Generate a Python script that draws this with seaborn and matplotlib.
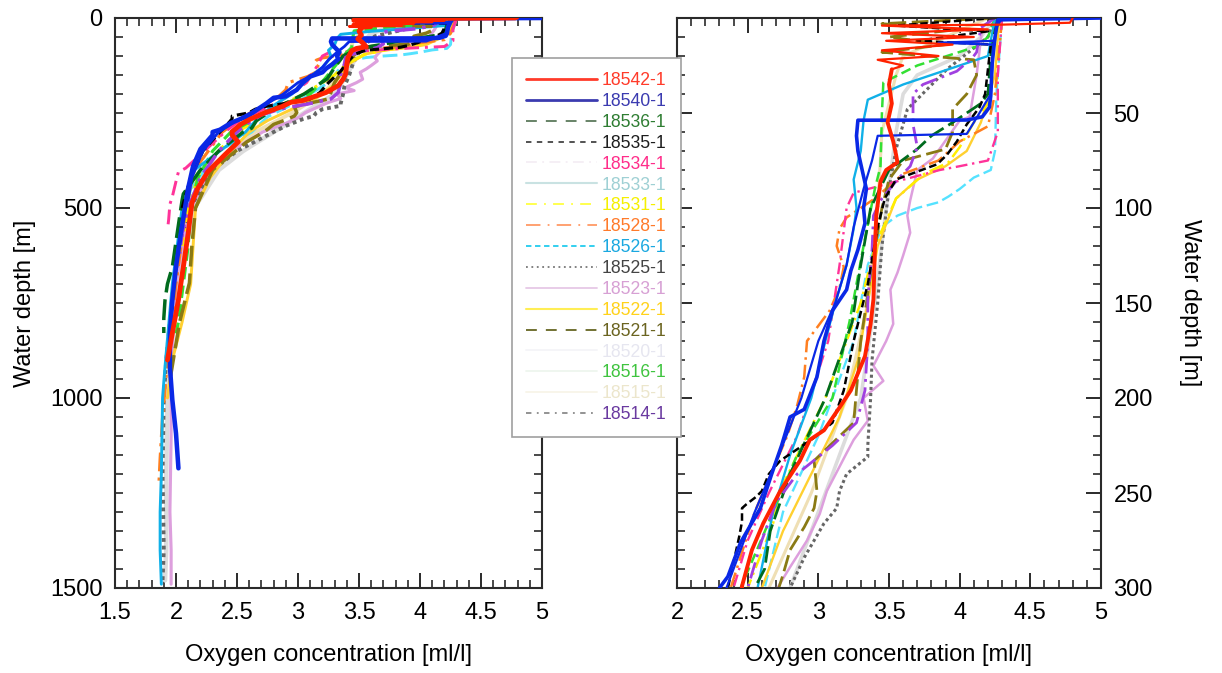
import matplotlib
matplotlib.use("Agg")
import matplotlib.pyplot as plt
import seaborn as sns
import pandas as pd
from matplotlib.lines import Line2D
from matplotlib.ticker import MultipleLocator

sns.set_style("ticks")
plt.rcParams['font.family'] = ['Liberation Sans', 'DejaVu Sans']

# ---------------- data: (depth [m], oxygen [ml/l]) per station ----------------
st_18542_top = [(0, 4.80), (2.5, 4.78), (3.5, 4.30), (4, 3.45), (6, 4.20), (8, 3.45), (10, 4.10),
                (12, 3.48), (14, 3.95), (17, 3.45), (20, 3.85), (22, 3.42), (25, 3.60), (27, 3.52)]
st_18542 = [(27, 3.52), (35, 3.50), (45, 3.52),
            (55, 3.49), (65, 3.53), (72, 3.55), (76, 3.56), (80, 3.48), (86, 3.44), (104, 3.41), (122, 3.40),
            (148, 3.39), (161, 3.37), (178, 3.33), (196, 3.23), (205, 3.15), (217, 3.04), (222, 2.94),
            (233, 2.87), (249, 2.73), (266, 2.61), (280, 2.53), (299, 2.46), (308, 2.46), (326, 2.51),
            (360, 2.40), (405, 2.26), (447, 2.18), (487, 2.13), (566, 2.10), (655, 2.06), (742, 2.02),
            (829, 1.97), (900, 1.93)]
st_18540 = [(0, 5.0), (0.5, 4.6), (1, 4.27), (10, 4.25), (24, 4.23), (41, 4.22), (47, 4.21), (52, 4.16),
            (53.7, 4.05), (53.8, 3.28), (62, 3.27), (70, 3.28), (80, 3.31), (90, 3.34), (100, 3.32),
            (108, 3.33), (122, 3.28), (133, 3.23), (143, 3.20), (154, 3.10), (170, 3.04), (189, 2.99),
            (206, 2.90), (210, 2.80), (225, 2.74), (240, 2.67), (258, 2.59), (276, 2.45), (294, 2.36),
            (300, 2.30), (308, 2.30), (345, 2.20), (390, 2.14), (447, 2.10), (487, 2.08), (566, 2.04),
            (655, 2.00), (742, 1.97), (829, 1.95), (918, 1.95), (1005, 1.97), (1093, 2.00), (1185, 2.02)]
st_18540_b = [(0, 4.30), (5, 4.26), (12, 4.25), (13, 3.85), (14, 4.24), (40, 4.22), (55, 4.10), (61, 4.05),
              (62, 3.42), (75, 3.38), (90, 3.32), (110, 3.25), (130, 3.20), (150, 3.12), (170, 3.00),
              (200, 2.88), (230, 2.72), (260, 2.55), (290, 2.40), (300, 2.35), (350, 2.22), (420, 2.13),
              (480, 2.10)]
st_18536 = [(0, 4.27), (10, 4.24), (20, 4.22), (30, 4.21), (40, 4.20), (45, 4.15), (55, 3.95), (62, 3.80),
            (69, 3.70), (80, 3.50), (100, 3.37), (130, 3.30), (160, 3.24), (200, 3.05), (240, 2.80),
            (270, 2.66), (290, 2.62), (300, 2.55), (350, 2.35), (400, 2.20), (463, 2.06), (479, 2.05),
            (566, 2.01), (655, 1.97), (700, 1.93), (742, 1.91), (790, 1.90), (829, 1.90)]
st_18535 = [(0, 4.25), (4, 3.55), (7, 4.20), (12, 3.70), (14, 4.22), (40, 4.18), (47, 4.14), (56, 4.05),
            (65, 3.98), (72, 3.91), (77, 3.84), (85, 3.55), (95, 3.47), (110, 3.42), (140, 3.35),
            (170, 3.25), (196, 3.18), (213, 3.10), (222, 2.95), (233, 2.73), (240, 2.65), (249, 2.60),
            (252, 2.56), (256, 2.49), (258, 2.46), (265, 2.46), (273, 2.44), (300, 2.36), (350, 2.22),
            (420, 2.12), (500, 2.05)]
st_18534 = [(0, 4.30), (30, 4.27), (60, 4.27), (75, 4.20), (78, 4.00), (80, 3.86), (92, 3.25), (100, 3.20),
            (130, 3.15), (170, 3.07), (220, 2.85), (250, 2.65), (275, 2.50), (300, 2.40), (330, 2.30),
            (395, 2.08), (405, 2.02), (430, 2.00), (470, 1.97), (490, 1.95), (530, 1.94), (558, 1.93)]
st_18533 = [(0, 4.30), (40, 4.26), (70, 4.25), (80, 4.22), (84, 4.10), (90, 4.00), (94, 3.92), (97, 3.85),
            (100, 3.70), (104, 3.56), (110, 3.45), (130, 3.35), (170, 3.25), (220, 3.00), (260, 2.75),
            (300, 2.62), (350, 2.35), (450, 2.12), (600, 2.02)]
st_18531 = [(0, 4.30), (40, 4.25), (55, 4.10), (68, 4.00), (76, 3.92), (82, 3.75), (95, 3.55), (120, 3.40),
            (150, 3.30), (200, 3.05), (250, 2.72), (266, 2.68), (300, 2.50), (400, 2.20), (500, 2.10),
            (600, 2.05)]
st_18528 = [(0, 4.30), (40, 4.25), (57, 4.20), (65, 4.00), (75, 3.85), (82, 3.60), (95, 3.40), (105, 3.20),
            (111, 3.15), (120, 3.13), (131, 3.18), (142, 3.15), (154, 3.08), (170, 2.92), (189, 2.90),
            (204, 2.85), (220, 2.78), (260, 2.55), (300, 2.38), (400, 2.15), (500, 2.08), (700, 2.00),
            (900, 1.93), (1050, 1.89), (1158, 1.87), (1224, 1.86)]
st_18526 = [(0, 4.25), (20, 4.20), (35, 3.60), (43, 3.35), (54, 3.32), (70, 3.30), (85, 3.25), (100, 3.27),
            (111, 3.25), (130, 3.20), (150, 3.12), (170, 3.05), (200, 2.95), (230, 2.80), (260, 2.68),
            (300, 2.57), (400, 2.15), (500, 2.05), (700, 1.97), (918, 1.91), (1000, 1.89), (1200, 1.88),
            (1300, 1.87), (1400, 1.87), (1490, 1.88)]
st_18525 = [(0, 4.25), (10, 4.20), (27, 3.91), (48, 3.63), (69, 3.55), (90, 3.50), (120, 3.45), (150, 3.42),
            (180, 3.38), (200, 3.37), (225, 3.35), (231, 3.35), (240, 3.20), (249, 3.15), (258, 3.13),
            (266, 3.04), (275, 2.97), (284, 2.90), (300, 2.80), (350, 2.50), (400, 2.30), (480, 2.15),
            (566, 2.05), (700, 1.98), (900, 1.92), (1000, 1.90), (1200, 1.89), (1400, 1.90), (1480, 1.89)]
st_18523 = [(0, 4.25), (5, 4.16), (30, 4.12), (52, 4.07), (54, 4.00), (74, 3.81), (80, 3.70), (96, 3.65),
            (104, 3.63), (113, 3.65), (125, 3.60), (134, 3.56), (143, 3.51), (161, 3.53), (170, 3.48),
            (183, 3.39), (191, 3.46), (200, 3.32), (212, 3.35), (222, 3.25), (229, 3.20), (249, 3.06),
            (261, 3.01), (275, 2.92), (289, 2.80), (300, 2.71), (350, 2.45), (400, 2.30), (500, 2.12),
            (600, 2.05), (700, 2.00), (800, 1.98), (950, 1.96), (1100, 1.96), (1300, 1.95), (1400, 1.96),
            (1490, 1.96)]
st_18522 = [(0, 4.28), (30, 4.25), (55, 4.15), (70, 4.05), (78, 3.90), (85, 3.70), (95, 3.55), (120, 3.42),
            (150, 3.35), (180, 3.28), (210, 3.15), (240, 2.95), (270, 2.75), (300, 2.60), (350, 2.45),
            (420, 2.28), (500, 2.16), (600, 2.14), (700, 2.12), (800, 2.05), (900, 1.97), (1000, 1.93)]
st_18521 = [(0, 4.25), (3, 3.45), (6, 4.00), (10, 3.50), (14, 3.90), (18, 3.45), (22, 4.10), (30, 4.12),
            (40, 4.05), (48, 3.95), (60, 3.95), (69, 3.90), (75, 3.60), (85, 3.50), (100, 3.45), (130, 3.38),
            (170, 3.30), (213, 3.25), (233, 2.97), (249, 2.99), (258, 2.97), (268, 2.90), (280, 2.80),
            (293, 2.75), (300, 2.72), (326, 2.58), (400, 2.30), (500, 2.16), (600, 2.13), (697, 2.11),
            (800, 2.03), (953, 1.95)]
st_18520 = [(0, 4.25), (10, 4.15), (20, 4.00), (30, 3.70), (40, 3.60), (60, 3.55), (100, 3.48), (150, 3.40),
            (200, 3.30), (250, 3.05), (280, 2.90), (300, 2.80), (350, 2.55), (400, 2.35), (500, 2.15),
            (600, 2.08), (700, 2.02), (800, 1.98), (900, 1.95), (1000, 1.93), (1200, 1.92), (1400, 1.92),
            (1480, 1.91)]
st_18516 = [(0, 4.25), (10, 4.20), (15, 4.12), (25, 3.70), (34, 3.46), (50, 3.45), (78, 3.44), (90, 3.40),
            (120, 3.32), (160, 3.22), (200, 3.10), (230, 2.85), (260, 2.68), (300, 2.45), (350, 2.30),
            (420, 2.18), (500, 2.12), (600, 2.10), (700, 2.06), (800, 2.02), (830, 2.00)]
st_18515 = [(0, 4.20), (20, 3.60), (30, 3.55), (60, 3.45), (100, 3.42), (150, 3.35), (200, 3.20),
            (250, 2.95), (300, 2.65), (400, 2.25), (500, 2.12)]
st_18514 = [(0, 4.25), (5, 4.15), (18, 4.12), (21, 4.09), (28, 3.98), (35, 3.74), (40, 3.67), (56, 3.67),
            (68, 3.70), (78, 3.65), (85, 3.56), (96, 3.44), (104, 3.39), (122, 3.38), (148, 3.35), (170, 3.35),
            (196, 3.33), (213, 3.27), (225, 3.10), (240, 2.85), (255, 2.70), (275, 2.60), (300, 2.50),
            (350, 2.35), (420, 2.20), (500, 2.10), (566, 2.05), (620, 2.03)]

labels = ["18542-1", "18540-1", "18536-1", "18535-1", "18534-1", "18533-1", "18531-1", "18528-1",
          "18526-1", "18525-1", "18523-1", "18522-1", "18521-1", "18520-1", "18516-1", "18515-1", "18514-1"]
label_colors = ["#ff3b2a", "#3b3bb0", "#2e7d32", "#1e1e1e", "#ff2d8a", "#9fd0d4", "#f5f000", "#ff7a2a",
                "#1aa8e0", "#444444", "#d7a0d4", "#ffd21a", "#6b6420", "#e6e6f0", "#3fc43f", "#ece6cc",
                "#6a3aa0"]

# ---------------- styling ----------------
line_styles = {
    "18520-1": ("#dcdcdc", "-", 2.6), "18515-1": ("#efdfb4", "-", 2.2),
    "18533-1": ("#55e2ff", (0, (5, 2)), 1.7), "18523-1": ("#dd9fdd", "-", 1.8),
    "18525-1": ("#666666", (0, (1, 1)), 2.2), "18522-1": ("#ffd030", "-", 1.7),
    "18531-1": ("#ffee00", (0, (6, 2, 1, 2)), 1.8), "18528-1": ("#ff7f20", (0, (6, 2, 1, 2)), 1.8),
    "18534-1": ("#ff3399", (0, (5, 2, 1, 2)), 1.7), "18516-1": ("#33e033", (0, (4, 2)), 1.8),
    "18526-1": ("#10b0e8", "-", 1.7), "18521-1": ("#8a7a14", (0, (6, 2)), 2.0),
    "18536-1": ("#006b1e", (0, (6, 2)), 2.0), "18514-1": ("#a040e0", (0, (6, 2, 1, 2)), 2.0),
    "18535-1": ("#000000", (0, (3, 1.5)), 1.8),
}
draw_order = ["18520-1", "18515-1", "18533-1", "18523-1", "18525-1", "18522-1", "18531-1", "18528-1",
              "18534-1", "18516-1", "18526-1", "18521-1", "18536-1", "18514-1", "18535-1"]
station_data = {"18542-1": st_18542, "18540-1": st_18540, "18536-1": st_18536, "18535-1": st_18535,
                "18534-1": st_18534, "18533-1": st_18533, "18531-1": st_18531, "18528-1": st_18528,
                "18526-1": st_18526, "18525-1": st_18525, "18523-1": st_18523, "18522-1": st_18522,
                "18521-1": st_18521, "18520-1": st_18520, "18516-1": st_18516, "18515-1": st_18515,
                "18514-1": st_18514}

legend_handles = [
    ("#ff3b2a", "-", 2.0), ("#3b3bb0", "-", 2.0), ("#5c7a5c", (0, (6, 5)), 1.3),
    ("#444444", (0, (3, 3)), 1.3), ("#f4eef4", (0, (6, 3, 1, 3)), 1.3), ("#c9e2e2", "-", 1.5),
    ("#ffff40", (0, (6, 4, 1, 4)), 1.3), ("#ff9a66", (0, (8, 4, 1, 4)), 1.3),
    ("#22ccee", (0, (3, 2)), 1.3), ("#777777", (0, (1, 2)), 1.3), ("#e6c8e6", "-", 1.3),
    ("#ffee55", "-", 1.5), ("#666622", (0, (6, 5)), 1.3), ("#f4f4f8", "-", 1.3),
    ("#eef6ee", "-", 1.3), ("#f8f4e8", "-", 1.3), ("#8a8a8a", (0, (3, 3, 1, 3)), 1.3),
]

FS = 17

fig = plt.figure(figsize=(12.22, 6.73), dpi=100)
ax1 = fig.add_axes([115 / 1222, 1 - 588 / 673, 427 / 1222, 570 / 673])
ax2 = fig.add_axes([677 / 1222, 1 - 588 / 673, 424 / 1222, 570 / 673])


def draw(ax, pts, color, ls, lw, z):
    df = pd.DataFrame(pts, columns=["depth", "o2"])
    sns.lineplot(data=df, x="o2", y="depth", sort=False, estimator=None, ax=ax,
                 color=color, linestyle=ls, lw=lw, zorder=z)


for ax, scale in ((ax1, 1.25), (ax2, 1.0)):
    for i, key in enumerate(draw_order):
        c, ls, lw = line_styles[key]
        draw(ax, station_data[key], c, ls, lw * scale, 2 + i * 0.01)
    draw(ax, st_18540_b, "#0a28e6", "-", 1.6 * scale, 3.0)
    draw(ax, st_18540, "#0a28e6", "-", 2.6 * scale, 3.1)
    draw(ax, st_18542_top, "#ff2200", "-", 1.6 * scale, 3.15)
    draw(ax, st_18542, "#ff2200", "-", 2.8 * scale, 3.2)

ax1.set_xlim(1.5, 5)
ax1.set_ylim(1500, 0)
ax2.set_xlim(2, 5)
ax2.set_ylim(300, 0)

ax1.xaxis.set_minor_locator(MultipleLocator(0.1))
ax1.yaxis.set_major_locator(MultipleLocator(500))
ax1.yaxis.set_minor_locator(MultipleLocator(50))
ax2.xaxis.set_minor_locator(MultipleLocator(0.1))
ax2.yaxis.set_major_locator(MultipleLocator(50))
ax2.yaxis.set_minor_locator(MultipleLocator(10))

ax1.set_xticks([1.5, 2, 2.5, 3, 3.5, 4, 4.5, 5])
ax1.set_xticklabels(["1.5", "2", "2.5", "3", "3.5", "4", "4.5", "5"])
ax2.set_xticks([2, 2.5, 3, 3.5, 4, 4.5, 5])
ax2.set_xticklabels(["2", "2.5", "3", "3.5", "4", "4.5", "5"])

for ax in (ax1, ax2):
    for s in ax.spines.values():
        s.set_visible(True)
        s.set_color("#2a2a2a")
        s.set_linewidth(1.5)
    ax.tick_params(which="both", direction="in", top=True, bottom=True, left=True, right=True,
                   colors="#2a2a2a", labelcolor="black", labelsize=FS)
    ax.tick_params(which="major", length=11, width=1.4)
    ax.tick_params(axis="x", which="major", pad=10)
    ax.tick_params(axis="y", which="major", pad=9)
    ax.tick_params(which="minor", length=5.5, width=1.2)
    ax.set_xlabel("Oxygen concentration [ml/l]", fontsize=FS, labelpad=14.5, color="black")

ax1.set_ylabel("Water depth [m]", fontsize=FS, labelpad=10, color="black")
ax2.tick_params(axis="y", which="both", labelleft=False, labelright=True)
ax2.yaxis.set_label_position("right")
ax2.set_ylabel("Water depth [m]", fontsize=FS, rotation=270, labelpad=35, color="black")

handles = [Line2D([0], [0], color=c, linestyle=ls, lw=lw) for c, ls, lw in legend_handles]
leg = fig.legend(handles, labels, loc="upper left", bbox_to_anchor=(512 / 1222, 1 - 58 / 673),
                 bbox_transform=fig.transFigure, fontsize=12.7, frameon=True, fancybox=False,
                 framealpha=1, edgecolor="#a0a0a0", labelspacing=0.22, handlelength=4.0,
                 handletextpad=0.3, borderaxespad=0, borderpad=0.8)
leg.get_frame().set_linewidth(1.2)
leg.set_zorder(10)
for t, c in zip(leg.get_texts(), label_colors):
    t.set_color(c)

fig.savefig("out.png", dpi=100)
